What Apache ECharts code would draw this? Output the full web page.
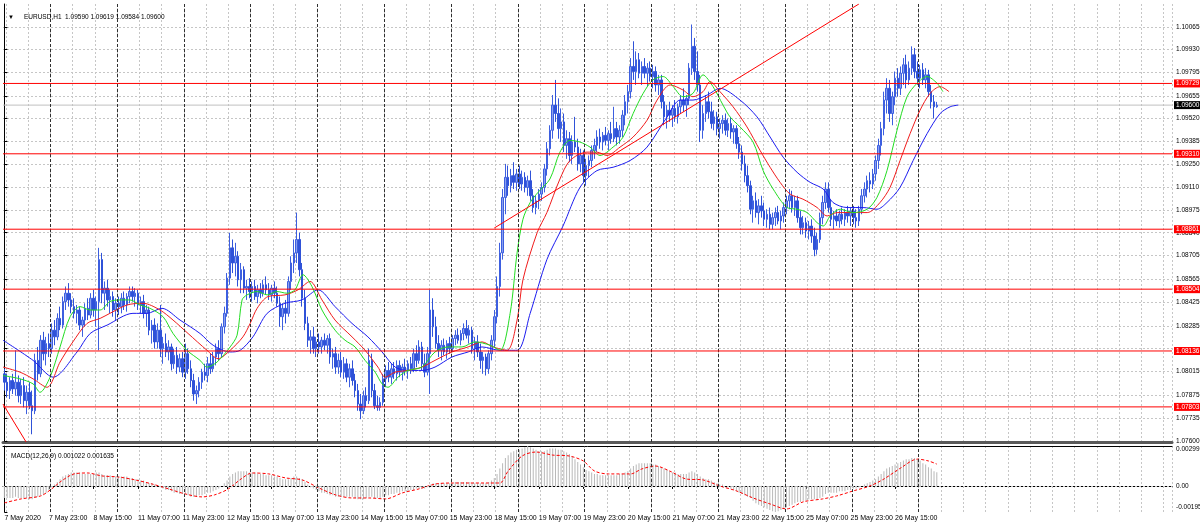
<!DOCTYPE html>
<html><head><meta charset="utf-8">
<script src="https://cdn.jsdelivr.net/npm/echarts@6/dist/echarts.min.js"></script>
<style>
html,body{margin:0;padding:0;background:#ffffff;}
#c{position:absolute;left:0;top:0;width:1200px;height:527px;background:#ffffff;}
</style></head><body><div id="c"></div>
<script>
// ---------------- data ----------------
const symbolName = 'EURUSD,H1';
const macdName = 'MACD(12,26,9)';
const timeLabels = ['7 May 2020','7 May 23:00','8 May 15:00','11 May 07:00','11 May 23:00','12 May 15:00','13 May 07:00','13 May 23:00','14 May 15:00','15 May 07:00','15 May 23:00','18 May 15:00','19 May 07:00','19 May 23:00','20 May 15:00','21 May 07:00','21 May 23:00','22 May 15:00','25 May 07:00','25 May 23:00','26 May 15:00'];
const daySeparators = [17,41,65,89,113,137,161,185,209,233,257,281,305,329];
const priceTicks = [1.10065,1.09930,1.09795,1.09655,1.09520,1.09385,1.09250,1.09110,1.08975,1.08840,1.08705,1.08565,1.08425,1.08285,1.08150,1.08015,1.07875,1.07735,1.07600];
const hiddenPriceLabels = [1.08150];
const levels = [1.09729,1.09310,1.08861,1.08504,1.08136,1.07803];
const macdTicks = [0.00299,0.00,-0.00195];

const opens = [
1.0800,1.0795,1.0790,1.0796,1.0791,1.0795,1.0787,1.0793,1.0784,1.0789,1.0781,1.0778,1.0808,1.0800,1.0820,1.0812,1.0818,
1.0815,1.0826,1.0822,1.0833,1.0829,1.0843,1.0848,1.0844,1.0840,1.0836,1.0838,1.0829,1.0832,1.0839,1.0835,1.0845,1.0838,1.0843,1.0868,1.0848,1.0851,1.0844,1.0846,1.0838,
1.0842,1.0840,1.0845,1.0841,1.0846,1.0849,1.0846,1.0848,1.0841,1.0843,1.0836,1.0838,1.0826,1.0829,1.0819,1.0826,1.0815,1.0818,1.0813,1.0816,1.0806,1.0811,1.0804,1.0809,
1.0801,1.0812,1.0803,1.0796,1.0788,1.0790,1.0795,1.0801,1.0799,1.0806,1.0803,1.0810,1.0815,1.0812,1.0828,1.0836,1.0857,1.0875,1.0866,1.0870,1.0856,1.0862,1.0851,1.0852,
1.0849,1.0852,1.0846,1.0850,1.0848,1.0853,1.0850,1.0847,1.0851,1.0848,1.0842,1.0834,1.0839,1.0836,1.0855,1.0866,1.0872,1.0880,1.0862,1.0845,1.0830,1.0820,1.0822,1.0815,
1.0819,1.0816,1.0820,1.0817,1.0821,1.0810,1.0812,1.0804,1.0808,1.0801,1.0806,1.0798,1.0803,1.0796,1.0790,1.0782,1.0778,1.0787,1.0784,1.0808,1.0790,1.0781,1.0780,1.0783,
1.0797,1.0802,1.0798,1.0803,1.0800,1.0805,1.0801,1.0804,1.0802,1.0806,1.0803,1.0812,1.0808,1.0816,1.0806,1.0801,1.0812,1.0838,1.0828,1.0818,1.0814,1.0817,1.0813,1.0818,
1.0815,1.0821,1.0823,1.0820,1.0824,1.0827,1.0823,1.0826,1.0815,1.0819,1.0813,1.0808,1.0810,1.0803,1.0812,1.0820,1.0834,1.0852,1.0872,1.0905,1.0917,1.0912,1.0918,1.0914,
1.0919,1.0913,1.0917,1.0911,1.0915,1.0906,1.0899,1.0903,1.0907,1.0911,1.0922,1.0934,1.0945,1.0960,1.0955,1.0946,1.0950,1.0936,1.0940,1.0930,1.0938,1.0935,1.0925,1.0930,
1.0918,1.0924,1.0927,1.0933,1.0936,1.0941,1.0938,1.0942,1.0939,1.0943,1.0940,1.0946,1.0941,1.0945,1.0954,1.0962,1.0968,1.0983,1.0980,1.0987,1.0979,1.0983,1.0979,1.0982,
1.0977,1.0980,1.0972,1.0975,1.0962,1.0953,1.0957,1.0954,1.0958,1.0953,1.0959,1.0963,1.0960,1.0964,1.0982,1.0995,1.0980,1.0972,1.0945,1.0955,1.0962,1.0956,1.0949,1.0953,
1.0946,1.0949,1.0951,1.0945,1.0949,1.0944,1.0946,1.0937,1.0932,1.0925,1.0918,1.0912,1.0898,1.0903,1.0896,1.0900,1.0897,1.0892,1.0895,1.0889,1.0893,1.0896,1.0891,1.0894,
1.0899,1.0903,1.0906,1.0899,1.0903,1.0893,1.0887,1.0890,1.0885,1.0888,1.0882,1.0874,1.0880,1.0893,1.0902,1.0910,1.0899,1.0892,1.0894,1.0891,1.0895,1.0892,1.0896,1.0894,
1.0897,1.0893,1.0891,1.0898,1.0906,1.0910,1.0915,1.0913,1.0919,1.0927,1.0936,1.0946,1.0963,1.0970,1.0955,1.0965,1.0976,1.0970,1.0979,1.0984,1.0975,1.0982,1.0990,1.0980,
1.0976,1.0981,1.0975,1.0978,1.0968,1.0962,1.09590
];
const highs = [
1.0803,1.0800,1.0798,1.0800,1.0814,1.0799,1.0797,1.0798,1.0793,1.0795,1.0790,1.0812,1.0816,1.0823,1.0825,1.0822,1.0824,
1.0830,1.0832,1.0836,1.0840,1.0846,1.0852,1.0854,1.0848,1.0845,1.0841,1.0840,1.0834,1.0842,1.0845,1.0848,1.0850,1.0846,1.0875,1.0872,1.0855,1.0856,1.0850,1.0849,1.0845,
1.0846,1.0848,1.0849,1.0848,1.0852,1.0852,1.0851,1.0850,1.0846,1.0847,1.0841,1.0840,1.0832,1.0833,1.0830,1.0841,1.0822,1.0824,1.0820,1.0818,1.0815,1.0816,1.0812,1.0813,
1.0818,1.0815,1.0808,1.0800,1.0793,1.0798,1.0803,1.0806,1.0810,1.0812,1.0813,1.0818,1.0820,1.0830,1.0840,1.0860,1.0884,1.0880,1.0878,1.0873,1.0866,1.0864,1.0856,1.0857,
1.0855,1.0856,1.0853,1.0854,1.0856,1.0858,1.0854,1.0853,1.0855,1.0852,1.0846,1.0842,1.0844,1.0858,1.0870,1.0880,1.0896,1.0884,1.0866,1.0850,1.0834,1.0826,1.0828,1.0822,
1.0824,1.0822,1.0824,1.0823,1.0824,1.0815,1.0816,1.0812,1.0813,1.0810,1.0809,1.0806,1.0808,1.0800,1.0794,1.0788,1.0790,1.0792,1.0815,1.0812,1.0794,1.0787,1.0786,1.0800,
1.0805,1.0807,1.0806,1.0807,1.0808,1.0808,1.0806,1.0809,1.0808,1.0810,1.0815,1.0817,1.0820,1.0819,1.0812,1.0816,1.0850,1.0845,1.0834,1.0823,1.0820,1.0821,1.0820,1.0822,
1.0823,1.0826,1.0827,1.0826,1.0830,1.0832,1.0829,1.0828,1.0822,1.0823,1.0818,1.0813,1.0812,1.0814,1.0823,1.0838,1.0858,1.0878,1.0910,1.0925,1.0924,1.0922,1.0926,1.0922,
1.0924,1.0921,1.0920,1.0918,1.0921,1.0910,1.0906,1.0910,1.0914,1.0925,1.0938,1.0948,1.0966,1.0975,1.0964,1.0958,1.0955,1.0945,1.0944,1.0942,1.0953,1.0940,1.0934,1.0933,
1.0928,1.0930,1.0936,1.0940,1.0945,1.0946,1.0944,1.0947,1.0945,1.0950,1.0959,1.0950,1.0948,1.0957,1.0966,1.0972,1.0988,1.0998,1.0992,1.0991,1.0986,1.0988,1.0985,1.0986,
1.0984,1.0983,1.0978,1.0978,1.0966,1.0960,1.0962,1.0960,1.0963,1.0961,1.0966,1.0970,1.0966,1.0985,1.1008,1.1000,1.0992,1.0978,1.0960,1.0966,1.0968,1.0962,1.0957,1.0956,
1.0952,1.0954,1.0955,1.0952,1.0953,1.0948,1.0948,1.0941,1.0936,1.0930,1.0924,1.0915,1.0906,1.0908,1.0904,1.0906,1.0902,1.0898,1.0899,1.0896,1.0899,1.0900,1.0897,1.0902,
1.0906,1.0910,1.0909,1.0906,1.0906,1.0897,1.0894,1.0893,1.0891,1.0892,1.0887,1.0884,1.0896,1.0906,1.0914,1.0914,1.0904,1.0897,1.0898,1.0897,1.0899,1.0898,1.0900,1.0899,
1.0900,1.0898,1.0900,1.0910,1.0914,1.0918,1.0920,1.0922,1.0930,1.0940,1.0950,1.0968,1.0976,1.0975,1.0968,1.0980,1.0982,1.0983,1.0988,1.0990,1.0986,1.0995,1.0994,1.0986,
1.0984,1.0985,1.0982,1.0981,1.0972,1.0966,1.09619
];
const lows = [
1.0790,1.0786,1.0785,1.0788,1.0787,1.0783,1.0782,1.0780,1.0776,1.0779,1.0764,1.0776,1.0796,1.0798,1.0808,1.0805,1.0810,
1.0812,1.0817,1.0820,1.0826,1.0827,1.0838,1.0840,1.0836,1.0833,1.0830,1.0826,1.0822,1.0828,1.0832,1.0833,1.0834,1.0828,1.0814,1.0842,1.0838,1.0840,1.0836,1.0834,1.0832,
1.0835,1.0836,1.0838,1.0837,1.0842,1.0843,1.0840,1.0838,1.0836,1.0833,1.0828,1.0823,1.0818,1.0815,1.0815,1.0810,1.0806,1.0810,1.0808,1.0802,1.0803,1.0800,1.0801,1.0798,
1.0797,1.0800,1.0792,1.0784,1.0782,1.0786,1.0791,1.0796,1.0795,1.0800,1.0801,1.0805,1.0808,1.0810,1.0824,1.0834,1.0853,1.0860,1.0858,1.0852,1.0848,1.0848,1.0844,1.0845,
1.0843,1.0844,1.0842,1.0845,1.0846,1.0847,1.0844,1.0843,1.0845,1.0840,1.0828,1.0826,1.0830,1.0834,1.0850,1.0860,1.0866,1.0858,1.0840,1.0826,1.0816,1.0812,1.0812,1.0810,
1.0812,1.0812,1.0814,1.0812,1.0806,1.0803,1.0800,1.0800,1.0798,1.0797,1.0795,1.0792,1.0793,1.0786,1.0778,1.0773,1.0776,1.0780,1.0782,1.0786,1.0779,1.0778,1.0778,1.0781,
1.0792,1.0795,1.0794,1.0797,1.0796,1.0798,1.0796,1.0799,1.0797,1.0800,1.0801,1.0804,1.0806,1.0802,1.0798,1.0799,1.0788,1.0822,1.0815,1.0810,1.0808,1.0811,1.0809,1.0812,
1.0813,1.0817,1.0818,1.0817,1.0820,1.0821,1.0818,1.0812,1.0808,1.0810,1.0803,1.0800,1.0799,1.0800,1.0808,1.0816,1.0830,1.0846,1.0868,1.0895,1.0906,1.0908,1.0910,1.0909,
1.0910,1.0909,1.0908,1.0906,1.0903,1.0896,1.0895,1.0898,1.0903,1.0908,1.0918,1.0930,1.0940,1.0950,1.0940,1.0938,1.0932,1.0928,1.0926,1.0925,1.0932,1.0921,1.0920,1.0914,
1.0912,1.0917,1.0923,1.0928,1.0932,1.0934,1.0933,1.0936,1.0933,1.0937,1.0938,1.0936,1.0937,1.0941,1.0948,1.0955,1.0964,1.0975,1.0972,1.0976,1.0972,1.0976,1.0971,1.0974,
1.0970,1.0968,1.0966,1.0958,1.0948,1.0946,1.0950,1.0947,1.0950,1.0949,1.0955,1.0956,1.0953,1.0960,1.0978,1.0975,1.0968,1.0938,1.0940,1.0950,1.0952,1.0946,1.0945,1.0942,
1.0940,1.0943,1.0942,1.0941,1.0940,1.0937,1.0934,1.0928,1.0921,1.0914,1.0908,1.0895,1.0890,1.0893,1.0889,1.0893,1.0888,1.0887,1.0886,1.0886,1.0888,1.0889,1.0886,1.0890,
1.0895,1.0898,1.0896,1.0894,1.0890,1.0883,1.0883,1.0881,1.0880,1.0878,1.0870,1.0871,1.0878,1.0889,1.0898,1.0896,1.0888,1.0886,1.0888,1.0887,1.0889,1.0888,1.0890,1.0888,
1.0889,1.0887,1.0888,1.0895,1.0902,1.0905,1.0908,1.0910,1.0915,1.0922,1.0930,1.0942,1.0955,1.0950,1.0948,1.0960,1.0965,1.0966,1.0972,1.0970,1.0972,1.0978,1.0976,1.0972,
1.0970,1.0972,1.0970,1.0965,1.0958,1.0952,1.09584
];
const closes = [
1.0795,1.0790,1.0796,1.0791,1.0795,1.0787,1.0793,1.0784,1.0789,1.0781,1.0778,1.0808,1.0800,1.0820,1.0812,1.0818,1.0815,
1.0826,1.0822,1.0833,1.0829,1.0843,1.0848,1.0844,1.0840,1.0836,1.0838,1.0829,1.0832,1.0839,1.0835,1.0845,1.0838,1.0843,1.0868,1.0848,1.0851,1.0844,1.0846,1.0838,1.0842,
1.0840,1.0845,1.0841,1.0846,1.0849,1.0846,1.0848,1.0841,1.0843,1.0836,1.0838,1.0826,1.0829,1.0819,1.0826,1.0815,1.0818,1.0813,1.0816,1.0806,1.0811,1.0804,1.0809,1.0801,
1.0812,1.0803,1.0796,1.0788,1.0790,1.0795,1.0801,1.0799,1.0806,1.0803,1.0810,1.0815,1.0812,1.0828,1.0836,1.0857,1.0875,1.0866,1.0870,1.0856,1.0862,1.0851,1.0852,1.0849,
1.0852,1.0846,1.0850,1.0848,1.0853,1.0850,1.0847,1.0851,1.0848,1.0842,1.0834,1.0839,1.0836,1.0855,1.0866,1.0872,1.0880,1.0862,1.0845,1.0830,1.0820,1.0822,1.0815,1.0819,
1.0816,1.0820,1.0817,1.0821,1.0810,1.0812,1.0804,1.0808,1.0801,1.0806,1.0798,1.0803,1.0796,1.0790,1.0782,1.0778,1.0787,1.0784,1.0808,1.0790,1.0781,1.0780,1.0783,1.0797,
1.0802,1.0798,1.0803,1.0800,1.0805,1.0801,1.0804,1.0802,1.0806,1.0803,1.0812,1.0808,1.0816,1.0806,1.0801,1.0812,1.0838,1.0828,1.0818,1.0814,1.0817,1.0813,1.0818,1.0815,
1.0821,1.0823,1.0820,1.0824,1.0827,1.0823,1.0826,1.0815,1.0819,1.0813,1.0808,1.0810,1.0803,1.0812,1.0820,1.0834,1.0852,1.0872,1.0905,1.0917,1.0912,1.0918,1.0914,1.0919,
1.0913,1.0917,1.0911,1.0915,1.0906,1.0899,1.0903,1.0907,1.0911,1.0922,1.0934,1.0945,1.0960,1.0955,1.0946,1.0950,1.0936,1.0940,1.0930,1.0938,1.0935,1.0925,1.0930,1.0918,
1.0924,1.0927,1.0933,1.0936,1.0941,1.0938,1.0942,1.0939,1.0943,1.0940,1.0946,1.0941,1.0945,1.0954,1.0962,1.0968,1.0983,1.0980,1.0987,1.0979,1.0983,1.0979,1.0982,1.0977,
1.0980,1.0972,1.0975,1.0962,1.0953,1.0957,1.0954,1.0958,1.0953,1.0959,1.0963,1.0960,1.0964,1.0982,1.0995,1.0980,1.0972,1.0945,1.0955,1.0962,1.0956,1.0949,1.0953,1.0946,
1.0949,1.0951,1.0945,1.0949,1.0944,1.0946,1.0937,1.0932,1.0925,1.0918,1.0912,1.0898,1.0903,1.0896,1.0900,1.0897,1.0892,1.0895,1.0889,1.0893,1.0896,1.0891,1.0894,1.0899,
1.0903,1.0906,1.0899,1.0903,1.0893,1.0887,1.0890,1.0885,1.0888,1.0882,1.0874,1.0880,1.0893,1.0902,1.0910,1.0899,1.0892,1.0894,1.0891,1.0895,1.0892,1.0896,1.0894,1.0897,
1.0893,1.0891,1.0898,1.0906,1.0910,1.0915,1.0913,1.0919,1.0927,1.0936,1.0946,1.0963,1.0970,1.0955,1.0965,1.0976,1.0970,1.0979,1.0984,1.0975,1.0982,1.0990,1.0980,1.0976,
1.0981,1.0975,1.0978,1.0968,1.0962,1.0959,1.09600
];

// Alligator lines, read at sample points [bar index, price]
const jaw = [[-0.5,1.0820],[10.3,1.0808],[17.5,1.0798],[26.1,1.0813],[30.8,1.0824],[36.9,1.0829],[46.2,1.0836],[51.2,1.0836],[56.6,1.0839],[63.1,1.0832],[70.3,1.0824],[75,1.0817],[81.1,1.0813],[84.7,1.0814],[89.3,1.0822],[94.4,1.0836],[100.8,1.0842],[106.9,1.0844],[112.7,1.0850],[118.8,1.0840],[124.9,1.0830],[130.6,1.0822],[135.7,1.0813],[140.4,1.0804],[145,1.0802],[150,1.0802],[154.7,1.0804],[160.8,1.0810],[166.6,1.0813],[171.6,1.0816],[178.1,1.0814],[184.2,1.0814],[188.9,1.0836],[194.9,1.0868],[200.7,1.0888],[206.8,1.0911],[212.9,1.0921],[218.7,1.0923],[224.8,1.0927],[230.9,1.0935],[238.1,1.0953],[242.8,1.0963],[247.4,1.0963],[252.5,1.0966],[257.1,1.0970],[264.3,1.0963],[270.4,1.0953],[275.1,1.0941],[279.8,1.0929],[284.8,1.0920],[289.5,1.0914],[294.2,1.0910],[297.7,1.0902],[302.8,1.0899],[308.5,1.0899],[313.5,1.0898],[317.1,1.0902],[321.8,1.0911],[326.5,1.0927],[331.5,1.0943],[336.2,1.0955],[339.8,1.0959],[342.7,1.0960]];
const teeth = [[-0.5,1.0804],[5.6,1.0801],[10.3,1.0797],[15.3,1.0792],[20,1.0807],[24.6,1.0819],[29.7,1.0830],[34.4,1.0833],[37.9,1.0836],[44.1,1.0841],[49.8,1.0842],[55.9,1.0838],[60.6,1.0832],[66,1.0824],[72.8,1.0814],[76.8,1.0809],[81.1,1.0814],[85.7,1.0822],[88.3,1.0830],[90.8,1.0839],[94.7,1.0846],[100.8,1.0847],[105.5,1.0850],[109.8,1.0855],[114.1,1.0844],[118.8,1.0832],[124.9,1.0822],[129.6,1.0814],[134.2,1.0804],[136.8,1.0798],[140.4,1.0801],[145,1.0802],[150,1.0804],[154.7,1.0808],[160.8,1.0813],[166.6,1.0816],[171.6,1.0819],[175.6,1.0816],[180.6,1.0814],[184.2,1.0832],[186.3,1.0856],[191.4,1.0884],[194.9,1.0896],[199.6,1.0916],[203.2,1.0927],[209.3,1.0932],[212.9,1.0932],[216.5,1.0930],[221.2,1.0935],[225.9,1.0941],[230.9,1.0951],[234.5,1.0963],[239.2,1.0972],[243.8,1.0969],[247.4,1.0965],[251,1.0968],[253.5,1.0974],[257.1,1.0968],[261.8,1.0959],[266.8,1.0947],[271.5,1.0933],[275.1,1.0923],[278.7,1.0914],[282.3,1.0907],[286.9,1.0904],[292,1.0899],[295.6,1.0894],[299.2,1.0896],[304.9,1.0896],[310,1.0896],[314.6,1.0902],[318.2,1.0911],[321.8,1.0927],[325.4,1.0943],[329,1.0957],[332.6,1.0967],[336.2,1.0971],[339.4,1.0968]];
const lips = [[-0.5,1.0799],[5.6,1.0797],[10.3,1.0794],[12.8,1.0789],[16.4,1.0798],[20,1.0816],[23.6,1.0834],[27.2,1.0840],[30.8,1.0838],[34.4,1.0838],[37.9,1.0843],[41.5,1.0844],[45.1,1.0844],[48.7,1.0841],[52.3,1.0839],[57,1.0834],[60.6,1.0824],[65.6,1.0814],[70.3,1.0808],[72.8,1.0804],[76.4,1.0807],[81.1,1.0816],[83.6,1.0823],[85.4,1.0844],[87.2,1.0847],[90.8,1.0849],[94.4,1.0847],[97.9,1.0849],[101.5,1.0848],[104.4,1.0850],[107.3,1.0859],[110.5,1.0852],[114.1,1.0838],[118.8,1.0826],[122.4,1.0820],[126,1.0816],[129.6,1.0808],[133.2,1.0801],[135.7,1.0794],[137.8,1.0792],[141.4,1.0798],[145,1.0802],[150,1.0804],[154.7,1.0813],[159.4,1.0816],[164.4,1.0816],[169.1,1.0819],[174.5,1.0817],[178.1,1.0814],[181.7,1.0836],[184.2,1.0872],[186.3,1.0892],[188.9,1.0902],[191.7,1.0908],[196,1.0916],[199.6,1.0932],[203.2,1.0939],[206.8,1.0938],[210.4,1.0935],[214,1.0930],[218.7,1.0935],[222.3,1.0941],[225.9,1.0955],[229.5,1.0967],[233,1.0975],[236.7,1.0977],[240.3,1.0971],[243.8,1.0965],[247.4,1.0967],[251,1.0978],[254.6,1.0971],[258.2,1.0960],[260.7,1.0953],[264.3,1.0947],[269,1.0938],[272.6,1.0921],[276.2,1.0910],[281.2,1.0899],[284.8,1.0898],[288.4,1.0896],[292,1.0890],[294.2,1.0888],[296.7,1.0894],[300.3,1.0898],[304.9,1.0896],[310,1.0898],[313.5,1.0905],[317.1,1.0921],[320.7,1.0945],[324.3,1.0965],[327.9,1.0973],[331.5,1.0977],[335.1,1.0973],[337.2,1.0968]];

// trend lines [bar index, price]
const trendUp = [[176,1.08868],[307,1.10202]];
const trendDown = [[-0.5,1.07820],[7.8,1.07594]];

// MACD main (histogram), one value per bar
const macdMain = [
-0.0009,-0.0009,-0.0009,-0.0009,-0.0008,-0.0009,-0.0009,-0.0009,-0.0009,-0.0010,-0.0010,-0.0009,-0.0008,-0.0007,-0.0006,-0.0005,-0.0003,
-0.0001,0.0001,0.0003,0.0005,0.0007,0.0008,0.0009,0.0010,
0.0010,0.0010,0.0010,0.0009,0.0009,0.0009,0.0009,0.0009,0.0010,0.0010,
0.0009,0.0008,0.0008,0.0008,0.0007,0.0007,0.0007,0.0007,0.0007,0.0007,
0.0006,0.0006,0.0005,0.0005,0.0004,0.0004,0.0003,0.0002,0.0002,0.0001,
0.0000,-0.0001,-0.0002,-0.0003,-0.0003,-0.0004,
-0.0005,-0.0005,-0.0006,-0.0006,-0.0006,-0.0007,-0.0008,-0.0008,-0.0008,-0.0007,-0.0007,-0.0006,
-0.0005,-0.0005,-0.0004,-0.0003,-0.0002,0.0000,0.0002,0.0004,
0.0007,0.0009,0.0010,0.0011,0.0011,0.0011,0.0011,0.0010,0.0010,0.0010,
0.0009,0.0009,0.0009,0.0008,0.0008,0.0008,0.0007,0.0007,0.0006,0.0005,
0.0005,0.0005,0.0006,0.0007,0.0007,0.0006,0.0005,0.0003,
0.0001,-0.0001,-0.0002,-0.0003,-0.0004,-0.0005,-0.0005,-0.0006,
-0.0007,-0.0007,-0.0008,-0.0008,-0.0008,-0.0008,-0.0008,-0.0008,-0.0008,-0.0009,-0.0010,-0.0010,-0.0010,-0.0009,-0.0008,-0.0008,-0.0009,-0.0009,-0.0009,-0.0008,
-0.0007,-0.0007,-0.0006,-0.0006,-0.0005,-0.0005,-0.0004,-0.0004,-0.0004,-0.0003,-0.0003,-0.0002,-0.0002,-0.0002,-0.0002,-0.0001,
0.0001,0.0002,0.0002,0.0002,0.0002,0.0002,0.0002,0.0002,0.0002,0.0003,0.0003,0.0003,0.0003,0.0003,0.0003,0.0002,0.0002,0.0002,0.0002,0.0002,0.0002,0.0003,0.0004,
0.0006,0.0009,0.0013,0.0017,0.0021,0.0023,0.0025,0.0026,0.0027,
0.0027,0.0028,0.0029,0.00299,0.0029,0.0028,0.0027,0.0026,0.0026,0.0026,0.0027,0.0028,0.0028,0.0028,0.0027,0.0027,
0.0026,0.0025,0.0024,0.0022,0.0020,0.0018,0.0016,0.0014,0.0012,0.0011,0.0010,0.0009,0.0009,0.0008,0.0008,0.0008,
0.0008,0.0008,0.0008,0.0008,0.0009,0.0009,0.0010,0.0011,
0.0013,0.0015,0.0016,0.0017,0.0017,0.0017,0.0017,0.0017,0.0016,0.0016,0.0015,0.0014,
0.0013,0.0012,0.0011,0.0010,0.0010,0.0009,0.0009,0.0009,0.0009,0.0010,0.0011,0.0010,
0.0009,0.0007,0.0006,0.0005,0.0005,0.0004,0.0003,0.0002,0.0001,0.0001,0.0000,-0.0001,
-0.0002,-0.0003,-0.0004,-0.0005,-0.0006,-0.0007,-0.0008,-0.0009,-0.0011,
-0.0013,-0.0014,-0.0015,-0.0016,-0.0017,-0.0018,-0.0019,-0.00195,-0.0019,-0.0018,-0.0017,
-0.0016,-0.0015,-0.0014,-0.0013,-0.0012,-0.0012,-0.0011,-0.0011,-0.0010,-0.0010,-0.0010,-0.0010,-0.0009,-0.0008,-0.0006,-0.0005,
-0.0005,-0.0005,-0.0005,-0.0004,-0.0004,-0.0004,-0.0003,-0.0003,-0.0002,-0.0002,-0.0001,0.0000,
0.0001,0.0002,0.0003,0.0004,0.0005,0.0007,0.0009,0.0011,
0.0013,0.0014,0.0015,0.0016,0.0017,0.0018,0.0019,0.0020,0.0020,0.0021,0.0021,0.0020,
0.0019,0.0017,0.0016,0.0014,0.0013,0.0011,0.001022
];
// MACD signal, read at sample points [bar index, value]
const macdSignal = [[0,-0.00127],[6,-0.00097],[13,-0.00075],[17,-0.00022],[20.5,0.00037],[25,0.00090],[30,0.00097],[35,0.00075],[41,0.00067],[47,0.00045],[53,0.00015],[59,-0.00022],[65,-0.00060],[71,-0.00082],[75.5,-0.00067],[80.5,-0.00022],[85,0.00052],[89,0.00097],[95,0.00090],[101,0.00060],[107,0.00045],[113,-0.00015],[119,-0.00067],[125,-0.00090],[131,-0.00090],[137,-0.00097],[143,-0.00052],[149,-0.00022],[155,0.00015],[161,0.00022],[167,0.00022],[173,0.00022],[178,0.00022],[181,0.00112],[186,0.00224],[191,0.00254],[197,0.00231],[203,0.00224],[208,0.00187],[212,0.00112],[217,0.00090],[225,0.00090],[229,0.00127],[234,0.00149],[239,0.00112],[245,0.00052],[251,0.00045],[257,0.00000],[263,-0.00037],[269,-0.00090],[275,-0.00134],[281,-0.00172],[287,-0.00119],[294,-0.00097],[299,-0.00075],[305,-0.00037],[311,0.00000],[316,0.00052],[322,0.00134],[328,0.00201],[332,0.00187],[335,0.001635]];

// ---------------- chart ----------------
const SLOTS = 420;               // visible bar slots incl. right shift
const X_MIN = -0.5, X_MAX = SLOTS - 0.5;
const FONT = 'Liberation Sans, Arial, sans-serif';
const cats = Array.from({length: SLOTS}, (_, i) => String(i));
const candles = closes.map((c, i) => [opens[i], c, lows[i], highs[i]]);
const last = closes.length - 1;
const lastClose = closes[last];
const labelInterval = (i) => i % 16 === 0 && i / 16 < timeLabels.length;
const gridInterval = (i) => i % 8 === 1;
const lightGrid = {color: '#c6c6c6', type: [2, 2], width: 1};
const sepLine = {color: '#303030', type: [3, 2], width: 1};
const sepData = daySeparators.map(i => ({xAxis: i - 0.5}));

const header = `${symbolName}  ${opens[last].toFixed(5)} ${highs[last].toFixed(5)} ${lows[last].toFixed(5)} ${lastClose.toFixed(5)}`;
const macdHeader = `${macdName} ${macdMain[last].toFixed(6)} ${macdSignal[macdSignal.length - 1][1].toFixed(6)}`;

// horizontal level series: drawn across the axis extent, value tag at the right end
const levelSeries = (v, lineColor, tagColor, z) => ({
  type: 'line', xAxisIndex: 1, yAxisIndex: 0, silent: true, z: z, showSymbol: false, animation: false,
  color: lineColor, itemStyle: {color: lineColor},
  data: [[X_MIN, v], [X_MAX - 0.01, v]],
  lineStyle: {color: lineColor, width: 1, type: 'solid', opacity: 1},
  emphasis: {disabled: true},
  endLabel: {show: true, formatter: v.toFixed(5), color: '#ffffff', backgroundColor: tagColor,
             padding: [1, 2, 0, 2], distance: 2, fontSize: 6.5, fontFamily: FONT, fontWeight: 'normal'}
});

const chart = echarts.init(document.getElementById('c'), null, {renderer: 'canvas'});
chart.setOption({
  animation: false,
  backgroundColor: '#ffffff',
  textStyle: {fontFamily: FONT},
  title: [
    {text: '{a|▼}  {b|' + header + '}', left: 3, top: 3,
     textStyle: {fontWeight: 'normal', rich: {a: {fontSize: 6, color: '#000', fontFamily: FONT, fontWeight: 'normal'},
                                       b: {fontSize: 6.5, color: '#000', fontFamily: FONT, fontWeight: 'normal'}}}},
    {text: macdHeader, left: 6, top: 448, textStyle: {fontSize: 6.5, color: '#000', fontWeight: 'normal', fontFamily: FONT}}
  ],
  grid: [
    {left: 3, top: 4, width: 1169, height: 438, outerBoundsMode: 'none', containLabel: false},
    {left: 3, top: 446, width: 1169, height: 66, outerBoundsMode: 'none', containLabel: false}
  ],
  xAxis: [
    {type: 'category', gridIndex: 0, data: cats, boundaryGap: true,
     axisLine: {show: true, lineStyle: {color: '#5a5a5a', width: 3}},
     axisTick: {show: false}, axisLabel: {show: false},
     splitLine: {show: true, interval: gridInterval, lineStyle: lightGrid}},
    {type: 'value', gridIndex: 0, min: X_MIN, max: X_MAX, show: false},
    {type: 'category', gridIndex: 1, data: cats, boundaryGap: true,
     axisLine: {show: true, lineStyle: {color: '#000', width: 1}},
     axisTick: {show: true, interval: labelInterval, alignWithLabel: true, length: 3, lineStyle: {color: '#000'}},
     axisLabel: {interval: labelInterval, formatter: (v, i) => timeLabels[Math.round(Number(v) / 16)],
                 align: 'left', margin: 3, fontSize: 7, color: '#000', fontFamily: FONT},
     splitLine: {show: true, interval: gridInterval, lineStyle: lightGrid}},
    {type: 'value', gridIndex: 1, min: X_MIN, max: X_MAX, position: 'top',
     axisLine: {show: true, onZero: false, lineStyle: {color: '#000', width: 1}},
     axisTick: {show: false}, axisLabel: {show: false}, splitLine: {show: false}}
  ],
  yAxis: [
    {type: 'value', gridIndex: 0, position: 'right', min: 1.07594, max: 1.10202,
     axisLine: {show: true, lineStyle: {color: '#000'}},
     axisTick: {show: true, length: 3, customValues: priceTicks, lineStyle: {color: '#000'}},
     axisLabel: {customValues: priceTicks.filter(v => !hiddenPriceLabels.includes(v)), formatter: v => v.toFixed(5),
                 fontSize: 6.5, color: '#000', margin: 4, fontFamily: FONT},
     splitLine: {show: true, lineStyle: lightGrid}},
    {type: 'value', gridIndex: 1, position: 'right', min: macdTicks[2], max: macdTicks[0],
     axisLine: {show: true, lineStyle: {color: '#000'}},
     axisTick: {show: true, length: 3, customValues: macdTicks, lineStyle: {color: '#000'}},
     axisLabel: {customValues: macdTicks, fontSize: 6.5, color: '#000', margin: 4, fontFamily: FONT,
                 formatter: v => v === 0 ? '0.00' : (v > 0 ? '{t|' + v.toFixed(5) + '}' : '{b|' + v.toFixed(5) + '}'),
                 rich: {t: {fontSize: 6.5, fontFamily: FONT, color: '#000', padding: [7, 0, 0, 0]},
                        b: {fontSize: 6.5, fontFamily: FONT, color: '#000', padding: [0, 0, 9, 0]}}},
     splitLine: {show: false}}
  ],
  series: [
    levelSeries(lastClose, '#c0c0c0', '#000000', 1),
    ...levels.map(v => levelSeries(v, '#ff0000', '#ff0000', 10)),
    {type: 'candlestick', name: 'price', xAxisIndex: 0, yAxisIndex: 0, data: candles, barWidth: 2, z: 2,
     itemStyle: {color: '#8aa0ee', color0: '#2f52d8', borderColor: '#3d5fe0', borderColor0: '#2f52d8', borderWidth: 1}},
    {type: 'line', name: 'jaw', xAxisIndex: 1, yAxisIndex: 0, data: jaw, showSymbol: false, smooth: 0.3, z: 4,
     color: '#1c1cf0', lineStyle: {color: '#1c1cf0', width: 1}},
    {type: 'line', name: 'separators', xAxisIndex: 1, yAxisIndex: 0, data: [], showSymbol: false, z: 1,
     markLine: {silent: true, symbol: ['none', 'none'], precision: 3, label: {show: false}, lineStyle: sepLine, data: sepData}},
    {type: 'line', name: 'teeth', xAxisIndex: 1, yAxisIndex: 0, data: teeth, showSymbol: false, smooth: 0.3, z: 4,
     color: '#f01c1c', lineStyle: {color: '#f01c1c', width: 1}},
    {type: 'line', name: 'lips', xAxisIndex: 1, yAxisIndex: 0, data: lips, showSymbol: false, smooth: 0.3, z: 4,
     color: '#22dd22', lineStyle: {color: '#22dd22', width: 1}},
    {type: 'line', name: 'trendUp', xAxisIndex: 1, yAxisIndex: 0, data: trendUp, showSymbol: false, z: 4,
     color: '#ff0000', lineStyle: {color: '#ff0000', width: 1}},
    {type: 'line', name: 'trendDown', xAxisIndex: 1, yAxisIndex: 0, data: trendDown, showSymbol: false, z: 4,
     color: '#ff0000', lineStyle: {color: '#ff0000', width: 1}},
    {type: 'bar', name: 'macd', xAxisIndex: 2, yAxisIndex: 1, data: macdMain, barWidth: 1,
     itemStyle: {color: '#b8b8b8'}},
    {type: 'line', name: 'signal', xAxisIndex: 3, yAxisIndex: 1, data: macdSignal, showSymbol: false, smooth: 0.3,
     color: '#ff0000', lineStyle: {color: '#ff0000', width: 1, type: [3, 2]},
     markLine: {silent: true, symbol: ['none', 'none'], precision: 6, label: {show: false},
       data: sepData.map(d => Object.assign({lineStyle: sepLine}, d))
         .concat([{yAxis: 0, lineStyle: lightGrid}])}}
  ]
});
</script></body></html>
